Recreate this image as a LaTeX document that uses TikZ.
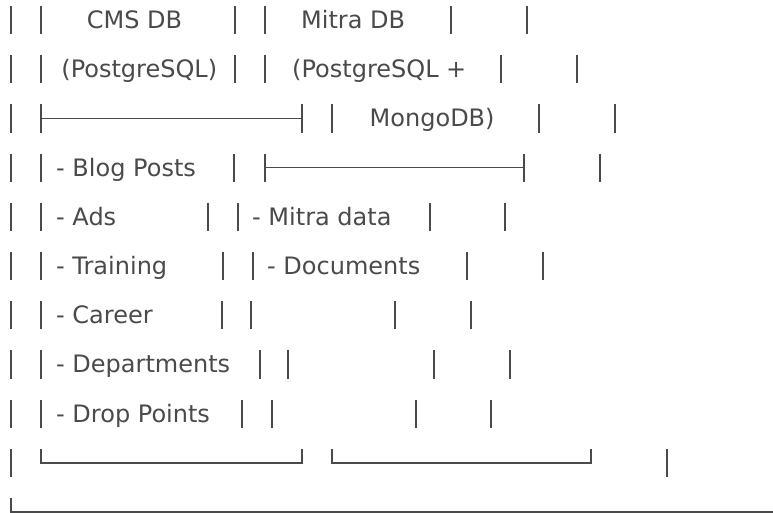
\documentclass[tikz,border=0pt]{standalone}
\usepackage{fontspec}
\setmainfont{DejaVu Sans}
\usepackage{xcolor}
\definecolor{ink}{HTML}{4A4A4A}

\begin{document}
\begin{tikzpicture}[x=1pt, y=-1pt,
  boxline/.style={ink, line width=1.4pt},
  txt/.style={anchor=base west, inner sep=0pt, text=ink, font=\fontsize{24}{24}\selectfont}]

\useasboundingbox (0,0) rectangle (773,513);
\fill[white] (0,0) rectangle (773,513);

%Vertical bars
{
%row 1
\foreach \x in {11,41,235,265,451,527} \draw[boxline] (\x,6)--(\x,34.2);
%row 2
\foreach \x in {11,41,235,265,501,577} \draw[boxline] (\x,55.2)--(\x,83.4);
%row 3
\foreach \x in {11,41,302,332,539,615} \draw[boxline] (\x,104.4)--(\x,132.6);
%row 4
\foreach \x in {11,41,234,265,524,600} \draw[boxline] (\x,153.6)--(\x,181.8);
%row 5
\foreach \x in {11,41,208,238,430,505} \draw[boxline] (\x,202.8)--(\x,231);
%row 6
\foreach \x in {11,41,223,253,467,543} \draw[boxline] (\x,252)--(\x,280.2);
%row 7
\foreach \x in {11,41,222,251,395,471} \draw[boxline] (\x,301.2)--(\x,329.4);
%row 8
\foreach \x in {11,41,260,288,434,510} \draw[boxline] (\x,350.4)--(\x,378.6);
%row 9
\foreach \x in {11,41,242,272,416,491} \draw[boxline] (\x,399.6)--(\x,427.8);
%row 10
\foreach \x in {11,667} \draw[boxline] (\x,448.8)--(\x,477);
}

%Horizontal lines
{
\draw[boxline] (41,118.5)--(302,118.5);
\draw[boxline] (265,167.7)--(524,167.7);
\draw[boxline] (41,448.8)--(41,462.9)--(302,462.9)--(302,448.8);
\draw[boxline] (332,448.8)--(332,462.9)--(591,462.9)--(591,448.8);
\draw[boxline] (11,498)--(11,512.1)--(773,512.1);
}

%CMS DB
\node[txt] (cms) at (86.7,28.5) {CMS DB};
\node[txt] (pgA) at (61.2,77.7) {(PostgreSQL)};
\node[txt] (blog) at (56,176.1) {- Blog Posts};
\node[txt] (ads) at (56,225.3) {- Ads};
\node[txt] (train) at (56,274.5) {- Training};
\node[txt] (career) at (56,323.7) {- Career};
\node[txt] (depts) at (56,372.9) {- Departments};
\node[txt] (drop) at (56,422.1) {- Drop Points};

%Mitra DB
\node[txt] (mitra) at (301,28.5) {Mitra DB};
\node[txt] (pgB) at (292,77.7) {(PostgreSQL +};
\node[txt] (mongo) at (369.5,126.9) {MongoDB)};
\node[txt] (mdata) at (252,225.3) {- Mitra data};
\node[txt] (docs) at (267,274.5) {- Documents};

\end{tikzpicture}
\end{document}
